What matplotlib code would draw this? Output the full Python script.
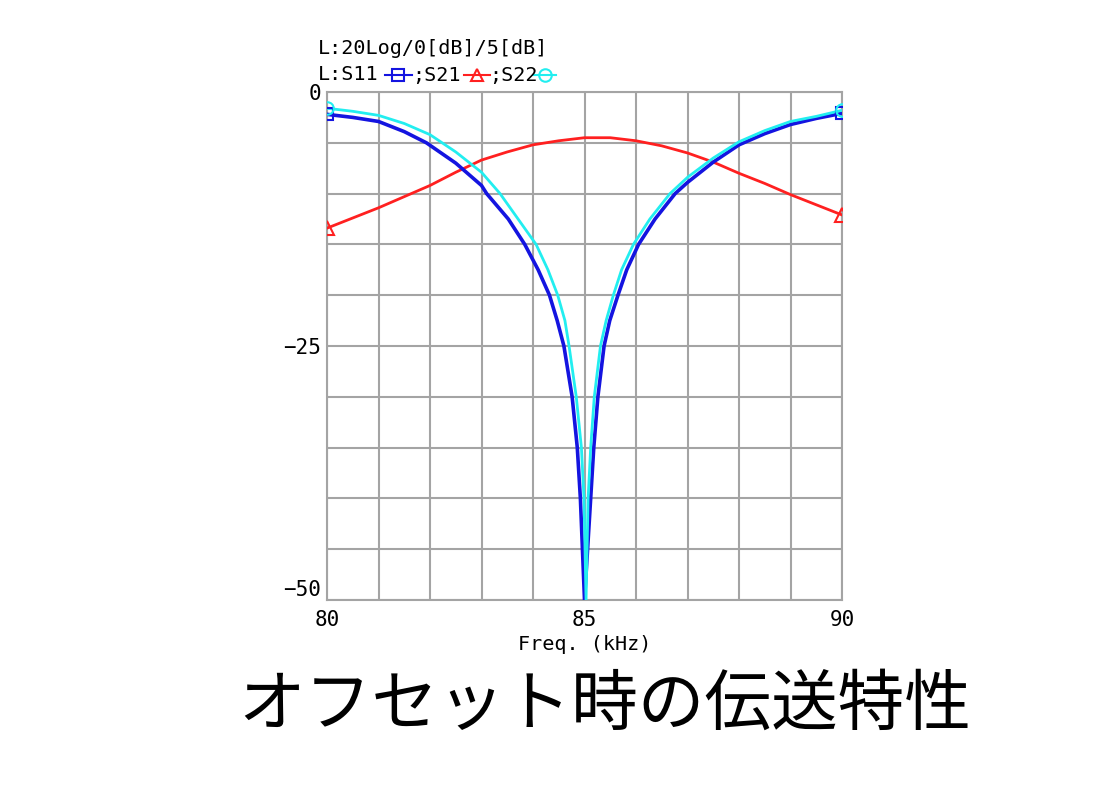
import matplotlib
matplotlib.use("Agg")
import matplotlib.pyplot as plt
from matplotlib.lines import Line2D

# frequency points (kHz) and levels (dB)
freq_s11 = [80, 80.5, 81, 81.5, 81.93, 82.5, 83, 83.1, 83.52, 83.84, 84.1, 84.32,
            84.47, 84.6, 84.76, 84.86, 84.92, 85.0, 85.06, 85.12, 85.18, 85.26,
            85.38, 85.49, 85.65, 85.82, 86.05, 86.37, 86.76, 87, 87.5, 88, 88.5,
            89, 89.5, 90]
s11 = [-2.2, -2.5, -2.9, -3.9, -5.0, -7.0, -9.2, -10.0, -12.5, -15.0, -17.5, -20.0,
       -22.5, -25.0, -30.0, -35.0, -40.0, -50.0, -45.0, -40.0, -35.0, -30.0,
       -25.0, -22.5, -20.0, -17.5, -15.0, -12.5, -10.0, -8.9, -6.9, -5.2, -4.1,
       -3.2, -2.6, -2.1]

freq_s21 = [80, 80.5, 81, 81.5, 82, 82.5, 83, 83.5, 84, 84.5, 85, 85.5, 86, 86.5,
            87, 87.5, 88, 88.5, 89, 89.5, 90]
s21 = [-13.4, -12.4, -11.4, -10.3, -9.2, -7.9, -6.7, -5.9, -5.2, -4.8, -4.5, -4.5,
       -4.8, -5.3, -6.0, -6.9, -8.0, -9.0, -10.1, -11.1, -12.1]

freq_s22 = [80, 80.5, 81, 81.5, 82, 82.5, 83, 83.36, 83.71, 84.06, 84.29, 84.48,
            84.62, 84.7, 84.84, 84.94, 84.99, 85.03, 85.07, 85.12, 85.19, 85.31,
            85.42, 85.56, 85.72, 85.95, 86.27, 86.66, 87, 87.5, 88, 88.5, 89,
            89.5, 90]
s22 = [-1.6, -1.9, -2.3, -3.1, -4.2, -5.9, -7.9, -10.0, -12.5, -15.0, -17.5, -20.0,
       -22.5, -25.0, -30.0, -35.0, -40.0, -50.0, -40.0, -35.0, -30.0, -25.0,
       -22.5, -20.0, -17.5, -15.0, -12.5, -10.0, -8.4, -6.5, -4.9, -3.8, -2.9,
       -2.4, -1.8]

x_ticks = [80, 85, 90]
y_ticks = [0, -25, -50]

W, H = 1100, 789
fig = plt.figure(figsize=(11, 7.89), dpi=100)
ax = fig.add_axes([327 / W, 1 - 600 / H, (842 - 327) / W, (600 - 92) / H])

grid_c = "#a4a4a4"
for xv in range(80, 91):
    ax.axvline(xv, color=grid_c, lw=1.5, zorder=1)
for yv in range(-50, 1, 5):
    ax.axhline(yv, color=grid_c, lw=1.5, zorder=1)

ax.plot(freq_s21, s21, color="#ff2020", lw=2, zorder=3)
ax.plot(freq_s11, s11, color="#1414e0", lw=2.6, zorder=4)
ax.plot(freq_s22, s22, color="#22eef0", lw=2, zorder=5)

# end markers
ax.plot([freq_s11[0], freq_s11[-1]], [s11[0], s11[-1]], ls="none", marker="s",
        ms=9, mfc="none", mec="#1414e0", mew=1.5, zorder=6)
ax.plot([freq_s21[0], freq_s21[-1]], [s21[0], s21[-1]], ls="none", marker="^",
        ms=10, mfc="none", mec="#ff2020", mew=1.5, zorder=6)
ax.plot([freq_s22[0], freq_s22[-1]], [s22[0], s22[-1]], ls="none", marker="o",
        ms=9, mfc="none", mec="#22eef0", mew=1.5, zorder=6)

ax.set_xlim(80, 90)
ax.set_ylim(-50, 0)
ax.set_xticks(x_ticks)
ax.set_yticks(y_ticks)
ax.tick_params(axis="x", length=0, labelsize=15, pad=7)
ax.tick_params(axis="y", length=0, labelsize=15, pad=4)
for s in ax.spines.values():
    s.set_color(grid_c)
    s.set_linewidth(1.5)

mono = "DejaVu Sans Mono"
for lab in ax.get_xticklabels() + ax.get_yticklabels():
    lab.set_family(mono)
ax.get_yticklabels()[-1].set_va("bottom")
ax.set_xlabel("Freq. (kHz)", family=mono, fontsize=14.5, labelpad=4)

fig.text(318 / W, 1 - 48 / H, "L:20Log/0[dB]/5[dB]", family=mono, fontsize=14.5,
         va="center", ha="left")

# legend row built by hand
row_y = 1 - 75 / H
fig.text(318 / W, row_y, "L:S11", family=mono, fontsize=14.5, va="center", ha="left")
fig.text(412 / W, row_y, ";S21", family=mono, fontsize=14.5, va="center", ha="left")
fig.text(489 / W, row_y, ";S22", family=mono, fontsize=14.5, va="center", ha="left")
legend_items = [((385, 412), "#1414e0", "s"), ((464, 490), "#ff2020", "^"),
                ((533, 556), "#22eef0", "o")]
for (x0, x1), c, m in legend_items:
    fig.add_artist(Line2D([x0 / W, x1 / W], [row_y, row_y], color=c, lw=1.5))
    fig.add_artist(Line2D([(x0 + x1) / 2 / W], [row_y], marker=m, ms=9,
                          mfc="none", mec=c, mew=1.5, ls="none"))

fig.text(605 / W, 1 - 706 / H, "オフセット時の伝送特性", family=["Noto Sans CJK JP"],
         fontsize=48, ha="center", va="center")

fig.savefig("out.png", dpi=100)
